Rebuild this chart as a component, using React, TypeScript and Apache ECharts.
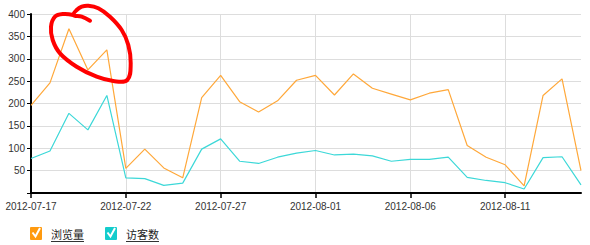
import React, { useEffect, useRef } from "react";
import * as echarts from "echarts";

const dates = [
  "2012-07-17","2012-07-18","2012-07-19","2012-07-20","2012-07-21",
  "2012-07-22","2012-07-23","2012-07-24","2012-07-25","2012-07-26",
  "2012-07-27","2012-07-28","2012-07-29","2012-07-30","2012-07-31",
  "2012-08-01","2012-08-02","2012-08-03","2012-08-04","2012-08-05",
  "2012-08-06","2012-08-07","2012-08-08","2012-08-09","2012-08-10",
  "2012-08-11","2012-08-12","2012-08-13","2012-08-14","2012-08-15",
];
const pageViews = [
  196, 246, 367, 275, 320, 55, 98, 56, 34, 213,
  263, 204, 181, 206, 252, 263, 219, 266, 234, 221,
  208, 223, 231, 106, 80, 63, 16, 218, 255, 50,
];
const visitors = [
  77, 94, 178, 141, 218, 34, 32, 17, 22, 98,
  121, 71, 66, 80, 89, 95, 85, 87, 83, 71,
  75, 75, 80, 35, 28, 23, 9, 79, 81, 18,
];
const seriesNames = ["浏览量", "访客数"];
const colors = ["#ffa83a", "#3cd8d8"];
const boxColors = ["#ff9a0f", "#14cccc"];

const scribble = [
  [90, 20.7], [81.7, 16.7], [73.3, 15], [76.7, 10], [81.7, 6.7], [88.3, 5.7],
  [98.3, 8.3], [110, 16.7], [121.7, 30], [128.3, 45], [130.7, 63.3],
  [127.3, 80], [113.3, 81], [96.7, 76.7], [76.7, 66.7], [60, 53.3],
  [52.7, 40], [51, 26.7], [55, 16.7], [63.3, 14], [73.3, 15],
];

export default function App() {
  const ref = useRef<HTMLDivElement>(null);
  useEffect(() => {
    if (!ref.current) return;
    const chart = echarts.init(ref.current, null, { renderer: "svg" });
    const legendItems: any[] = [];
    const legendX = [30, 105];
    seriesNames.forEach((name, i) => {
      const x = legendX[i];
      legendItems.push(
        { type: "rect", shape: { x, y: 227, width: 12, height: 13, r: 1 }, style: { fill: boxColors[i] } },
        {
          type: "polyline",
          shape: { points: [[x + 2.5, 232.5], [x + 5.5, 236.5], [x + 10, 228]] },
          style: { stroke: "#fff", lineWidth: 2, fill: "none" },
        },
        {
          type: "text",
          x: x + 21,
          y: 234,
          style: { text: name, fill: "#222", font: "11px 'Noto Sans CJK SC', sans-serif", verticalAlign: "middle" },
        },
        {
          type: "line",
          shape: { x1: x + 21, y1: 241.5, x2: x + 54, y2: 241.5 },
          style: { stroke: "#333", lineWidth: 1 },
        }
      );
    });
    chart.setOption({
      animation: false,
      grid: { left: 31, right: 9, top: 14, bottom: 52 },
      xAxis: {
        type: "category",
        data: dates,
        boundaryGap: false,
        axisLine: { lineStyle: { color: "#000", width: 2 } },
        axisTick: { interval: 4, length: 5, lineStyle: { color: "#000", width: 1.5 } },
        axisLabel: { interval: 4, color: "#333", fontSize: 10, fontFamily: "Liberation Sans, Arial, sans-serif", margin: 8 },
        splitLine: { show: true, interval: 4, lineStyle: { color: "#ddd", width: 1 } },
      },
      yAxis: {
        type: "value",
        min: 0,
        max: 400,
        interval: 50,
        axisLine: { show: true, lineStyle: { color: "#000", width: 2 } },
        axisTick: { show: true, length: 4, lineStyle: { color: "#000" } },
        axisLabel: {
          color: "#333",
          fontSize: 10,
          fontFamily: "Liberation Sans, Arial, sans-serif",
          margin: 6,
          formatter: (v: number) => (v === 0 ? "" : String(v)),
        },
        splitLine: { lineStyle: { color: "#ddd", width: 1 } },
      },
      series: [
        {
          name: seriesNames[0],
          type: "line",
          data: pageViews,
          symbol: "none",
          lineStyle: { color: colors[0], width: 1.2 },
          itemStyle: { color: colors[0] },
        },
        {
          name: seriesNames[1],
          type: "line",
          data: visitors,
          symbol: "none",
          lineStyle: { color: colors[1], width: 1.2 },
          itemStyle: { color: colors[1] },
        },
      ],
      graphic: [
        ...legendItems,
        {
          type: "polyline",
          shape: { points: scribble, smooth: 0.4 },
          style: { stroke: "#f00", lineWidth: 4, fill: "none", lineCap: "round", lineJoin: "round" },
          z: 100,
        },
      ],
    });
    return () => chart.dispose();
  }, []);
  return <div ref={ref} style={{ width: 590, height: 245, position: "absolute", left: 0, top: 0 }} />;
}
